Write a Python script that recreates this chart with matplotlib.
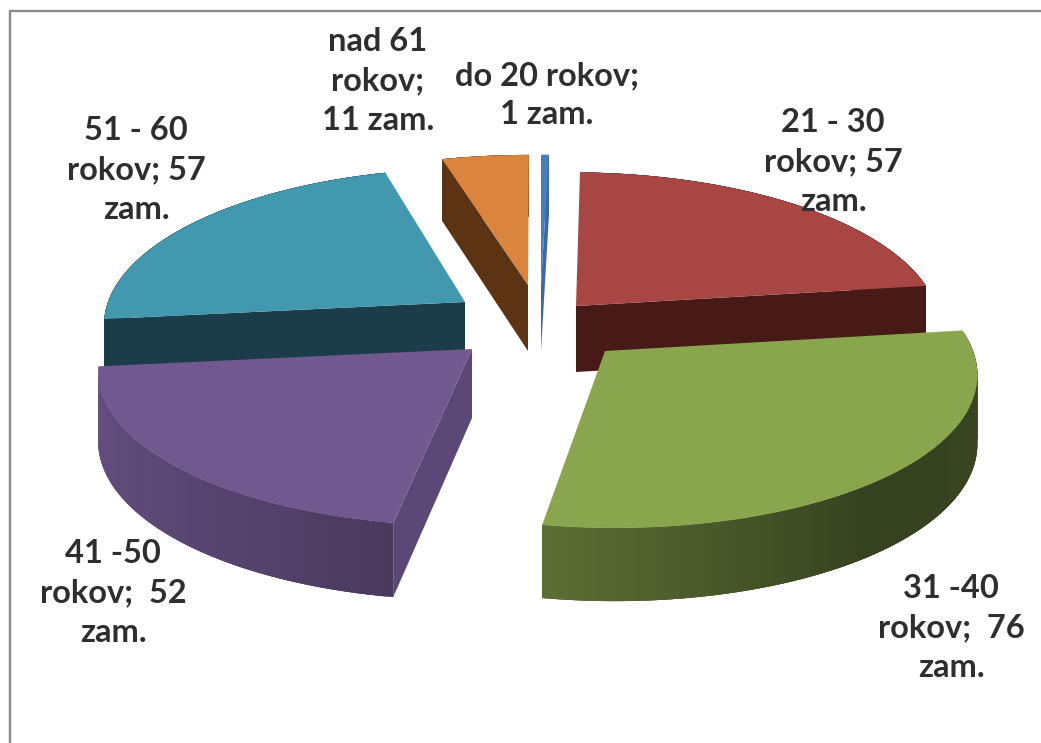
import numpy as np
import matplotlib
matplotlib.use('Agg')
import matplotlib.pyplot as plt
from matplotlib.patches import Polygon

# hodnoty z grafu (pocet zamestnancov)
values = [1, 57, 76, 52, 57, 11]
labels = ['do 20 rokov;\n1 zam.', '21 - 30\nrokov; 57\nzam.', '31 -40\nrokov;  76\nzam.',
          '41 -50\nrokov;  52\nzam.', '51 - 60\nrokov; 57\nzam.', 'nad 61\nrokov;\n11 zam.']
top_colors = ['#4a7ebb', '#a84644', '#89a54e', '#71588f', '#4198af', '#db843d']
cut_colors = ['#3d6a9e', '#471a18', None, '#5c4876', '#1a3d49', '#5c3413']
label_pos = [(547, 95), (833, 162), (951, 628), (113, 593), (136, 170), (378, 81)]

# vrchol vysunuteho dielu a jeho rozmery v pixeloch: ax, ay, A, B, skew, hlbka
geom = [(541, 285, 360, 147, 0, 66),
        (576, 306, 360, 151, 4.4, 66),
        (605, 351, 368, 154, 8.7, 68),
        (472, 349, 370, 154, -5, 69),
        (465, 302, 357, 151, -6.5, 51),
        (528, 285, 363, 147, -1, 66)]
# ktora rezna stena je videt: 0 = zaciatok dielu, 1 = koniec dielu
cut_side = [1, 1, None, 0, 0, 0]
# poradie kreslenia odzadu dopredu
order = [5, 0, 1, 4, 2, 3]
k = 0.13

rim_stops = {2: [(0.0, '#3c4822'), (0.55, '#35411f'), (1.0, '#5c6e34')],
             3: [(0.0, '#4a3a5c'), (0.35, '#56446f'), (1.0, '#665182')],
             1: [(0.0, '#471a18'), (1.0, '#471a18')],
             4: [(0.0, '#1a3d49'), (1.0, '#1a3d49')],
             0: [(0.0, '#3d6a9e'), (1.0, '#3d6a9e')],
             5: [(0.0, '#5c3413'), (1.0, '#5c3413')]}

edges = np.cumsum([0] + values) / sum(values) * 2 * np.pi


def project(t, g):
    ax_, ay, A, B, sk, d = g
    u, v = np.sin(t), -np.cos(t)
    w = 1 - k * v
    x = ax_ + (A * u + sk * v) / w
    y = ay + B * v / w
    return x, y, d / (1 - 0.07 * v)


def mix(stops, f):
    pos = [s[0] for s in stops]
    rgb = np.array([matplotlib.colors.to_rgb(s[1]) for s in stops])
    return [np.interp(f, pos, rgb[:, i]) for i in range(3)]


fig = plt.figure(figsize=(10.41, 7.43), dpi=100)
ax = fig.add_axes([0, 0, 1, 1])
ax.set_xlim(0, 1041)
ax.set_ylim(743, 0)
ax.axis('off')

# ramik grafu
ax.plot([9.5, 9.5, 1041], [743, 11, 11], color='#8c8c8c', lw=1.7, solid_joinstyle='miter')

for i in order:
    g = geom[i]
    ts = np.linspace(edges[i], edges[i + 1], 120)
    xs, ys, ds = project(ts, g)
    ax_, ay, d0 = g[0], g[1], g[5]

    # rezna stena
    if cut_side[i] is not None:
        xe, ye, de = project(ts[-1] if cut_side[i] else ts[0], g)
        ax.add_patch(Polygon([(ax_, ay), (xe, ye), (xe, ye + de), (ax_, ay + d0)],
                             closed=True, fc=cut_colors[i], ec='none', zorder=2))

    # obvod s prechodom farby, kazdy kus prekryva nasledujuci aby neboli vidiet svy
    for j in range(len(ts) - 1):
        c = mix(rim_stops[i], j / (len(ts) - 2))
        e = min(j + 3, len(ts) - 1)
        ax.add_patch(Polygon(np.column_stack([np.r_[xs[j:e + 1], xs[j:e + 1][::-1]],
                                              np.r_[ys[j:e + 1], (ys + ds)[j:e + 1][::-1]]]),
                             closed=True, fc=c, ec='none', zorder=2))

    # vrchna plocha
    ax.add_patch(Polygon(np.column_stack([np.r_[ax_, xs], np.r_[ay, ys]]), closed=True,
                         fc=top_colors[i], ec='none', zorder=2))

for lab, (x, y) in zip(labels, label_pos):
    ax.text(x, y, lab, ha='center', va='center', multialignment='center', family='Lato',
            fontweight='bold', fontsize=23.5, color='#2e2e2e', linespacing=1.42, zorder=5)

fig.savefig('out.png', dpi=100, facecolor='white')
